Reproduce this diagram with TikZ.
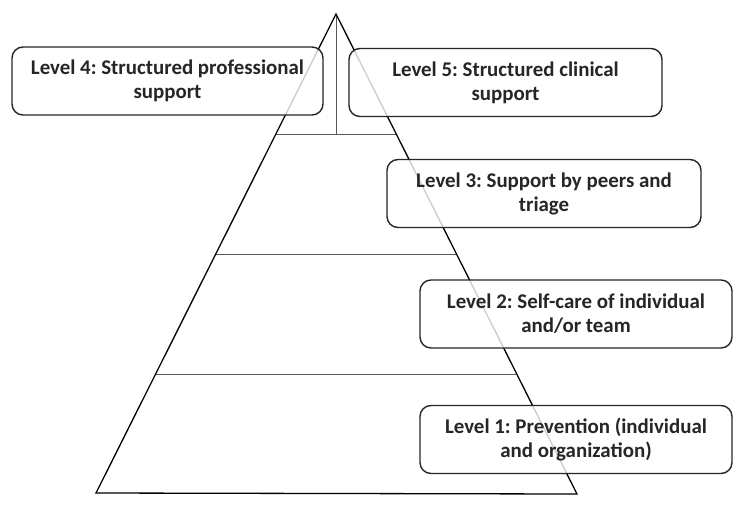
\documentclass[tikz,border=0pt]{standalone}
\usepackage{fontspec}
\setmainfont{Carlito}
\frenchspacing
\begin{document}
\begin{tikzpicture}[x=1pt,y=-1pt,
  levelbox/.style={draw=black!85, line width=1.4pt, rounded corners=11pt, fill=white, fill opacity=0.8, text opacity=1,
    minimum height=68pt, inner sep=0pt, align=center, font=\fontsize{20.9}{24}\selectfont\bfseries, text=black!85},
  side/.style={draw=black, line width=1.3pt},
  tier/.style={draw=black!65, line width=0.9pt}]
\useasboundingbox (0,0) rectangle (744,512);
\fill[white] (0,0) rectangle (744,512);
% pyramid
\coordinate (apex) at (336,14);
\coordinate (bl) at (96,493);
\coordinate (br) at (577,494);
\coordinate (t1l) at (276,134);
\coordinate (t1r) at (396,134);
\coordinate (t1m) at (336,134);
\coordinate (t2l) at (216,254);
\coordinate (t2r) at (456,254);
\coordinate (t3l) at (156,374);
\coordinate (t3r) at (516,374);
\draw[tier] (t1l) -- (t1r);
\draw[tier] (t2l) -- (t2r);
\draw[tier] (t3l) -- (t3r);
\draw[tier] (apex) -- (t1m);
\draw[side, line join=miter] (bl) -- (apex) -- (br) -- cycle;
% boxes
\node[levelbox, minimum width=311pt] (l4) at (167.5,81) {Level 4: Structured professional\\support};
\node[levelbox, minimum width=313pt] (l5) at (505.5,82.5) {Level 5: Structured clinical\\support};
\node[levelbox, minimum width=314pt] (l3) at (544,193.5) {Level 3: Support by peers and\\triage};
\node[levelbox, minimum width=312pt] (l2) at (576,314) {Level 2: Self-care of individual\\and/or team};
\node[levelbox, minimum width=312pt] (l1) at (576,439.5) {Level 1: Prevention (individual\\and organization)};
\end{tikzpicture}
\end{document}
